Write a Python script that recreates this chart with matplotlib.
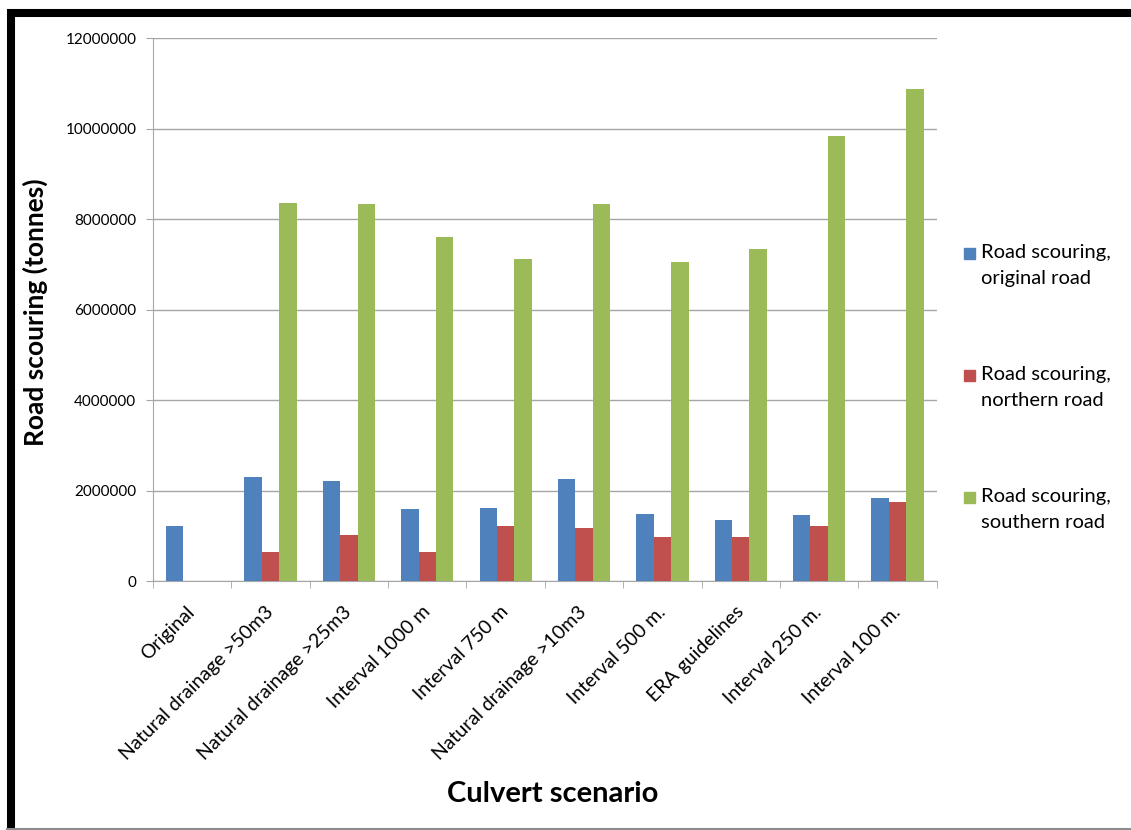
import matplotlib.pyplot as plt
import numpy as np
from matplotlib.lines import Line2D
from matplotlib.patches import Rectangle
from matplotlib.ticker import FuncFormatter, MultipleLocator

plt.rcParams["font.family"] = ["Lato", "DejaVu Sans"]

SCENARIOS = [
    "Original",
    "Natural drainage >50m3",
    "Natural drainage >25m3",
    "Interval 1000 m",
    "Interval 750 m",
    "Natural drainage >10m3",
    "Interval 500 m.",
    "ERA guidelines",
    "Interval 250 m.",
    "Interval 100 m.",
]
ORIGINAL_ROAD = [1213000, 2311000, 2222000, 1600000, 1630000, 2258000, 1496000, 1362000, 1467000, 1850000]
NORTHERN_ROAD = [0, 658000, 1030000, 644000, 1229000, 1185000, 985000, 985000, 1229000, 1756000]
SOUTHERN_ROAD = [0, 8360000, 8340000, 7610000, 7120000, 8340000, 7060000, 7340000, 9840000, 10880000]

SERIES_LABELS = ["Road scouring,\noriginal road",
                 "Road scouring,\nnorthern road",
                 "Road scouring,\nsouthern road"]
COLORS = ["#4F81BD", "#C0504D", "#9BBB59"]
GRID = "#a6a6a6"


def main():
    fig = plt.figure(figsize=(11.31, 8.30), dpi=100)
    ax = fig.add_axes([153 / 1131, 1 - 581.3 / 830, 783.7 / 1131, 543 / 830])

    x = np.arange(len(SCENARIOS))
    width = 1 / 4.5
    for i, (vals, col) in enumerate(zip([ORIGINAL_ROAD, NORTHERN_ROAD, SOUTHERN_ROAD], COLORS)):
        ax.bar(x + (i - 1) * width, vals, width=width, color=col, zorder=3)

    ax.set_xlim(-0.5, len(SCENARIOS) - 0.5)
    ax.set_ylim(0, 12000000)
    ax.yaxis.set_major_locator(MultipleLocator(2000000))
    ax.yaxis.set_major_formatter(FuncFormatter(lambda v, p: f"{int(v)}"))
    ax.grid(axis="y", color=GRID, linewidth=1, zorder=0)

    ax.set_xticks(x)
    ax.set_xticklabels(SCENARIOS, rotation=45, ha="right", va="center",
                       rotation_mode="anchor", fontsize=14)
    ax.set_xticks(np.arange(len(SCENARIOS) + 1) - 0.5, minor=True)
    ax.tick_params(axis="x", which="major", length=0, pad=20)
    ax.tick_params(axis="x", which="minor", length=5, color=GRID)
    ax.tick_params(axis="y", length=5, color=GRID, labelsize=11, pad=7)

    for side in ["top", "right"]:
        ax.spines[side].set_visible(False)
    for side in ["left", "bottom"]:
        ax.spines[side].set_color(GRID)

    ax.set_ylabel("Road scouring (tonnes)", fontsize=19, fontweight="bold")
    ax.yaxis.set_label_coords(-0.134, 0.496)
    ax.set_xlabel("Culvert scenario", fontsize=21, fontweight="bold")
    ax.xaxis.set_label_coords(0.51, -0.368)

    # legend drawn by hand: square beside the first line of each two-line label
    for i, (lab, col) in enumerate(zip(SERIES_LABELS, COLORS)):
        y_top = 253 + i * 122
        fig.add_artist(Rectangle((964 / 1131, 1 - (y_top + 6) / 830), 11 / 1131, 11 / 830,
                                 transform=fig.transFigure, color=col))
        fig.text(981 / 1131, 1 - (y_top - 9) / 830, lab, fontsize=14.5,
                 va="top", ha="left", linespacing=1.62)

    # outer frame
    fig.add_artist(Line2D([11 / 1131, 11 / 1131], [0, 1 - 9 / 830], color="black",
                          linewidth=5.8, transform=fig.transFigure, solid_capstyle="butt"))
    fig.add_artist(Line2D([7 / 1131, 1], [1 - 13 / 830, 1 - 13 / 830], color="black",
                          linewidth=5.8, transform=fig.transFigure, solid_capstyle="butt"))
    fig.add_artist(Line2D([7 / 1131, 1], [1 - 828.5 / 830, 1 - 828.5 / 830], color="#8c8c8c",
                          linewidth=1.5, transform=fig.transFigure))

    fig.savefig("out.png", dpi=100)
    plt.close(fig)


if __name__ == "__main__":
    main()
